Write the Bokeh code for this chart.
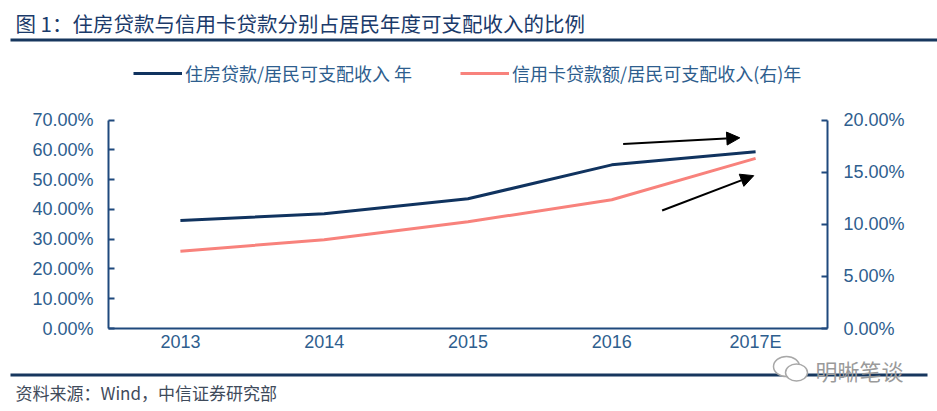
from bokeh.plotting import figure
from bokeh.models import (ColumnDataSource, FactorRange, Range1d, LinearAxis, FixedTicker,
                          NumeralTickFormatter, Arrow, NormalHead, Legend, LegendItem)
from bokeh.core.properties import value
from bokeh.layouts import column
from bokeh.embed import file_html
from bokeh.resources import INLINE

# ---- data ----
years = ["2013", "2014", "2015", "2016", "2017E"]
housing_ratio = [0.363, 0.386, 0.436, 0.550, 0.594]      # left axis
credit_ratio = [0.0742, 0.0853, 0.1025, 0.1236, 0.1634]   # right axis
left_ticks = [0.0, 0.1, 0.2, 0.3, 0.4, 0.5, 0.6, 0.7]
right_ticks = [0.0, 0.05, 0.10, 0.15, 0.20]

title_text = "图 1：住房贷款与信用卡贷款分别占居民年度可支配收入的比例"
name_housing = "住房贷款/居民可支配收入 年"
name_credit = "信用卡贷款额/居民可支配收入(右)年"
source_text = "资料来源：Wind，中信证券研究部"
watermark_text = "明晰笔谈"

NAVY = "#10335F"
PINK = "#F8827C"
AXIS = "#1F497D"
TXT = "#2E5E8E"
RULE = "#17375E"
LATIN = "Liberation Sans"
CJK = "Noto Sans CJK SC"

W = 937
HEAD_H, MAIN_H, FOOT_H = 42, 312, 56
BOTTOM_BORDER = 25
AXIS_H = 209                      # pixel height of the value axes
FRAME_H = MAIN_H - BOTTOM_BORDER  # frame reaches up to the top of the chart block


def deco_fig(h):
    f = figure(width=W, height=h, output_backend="svg", toolbar_location=None,
               x_range=Range1d(0, W), y_range=Range1d(h, 0),
               x_axis_location=None, y_axis_location=None,
               min_border=0, margin=0, frame_align=False)
    f.outline_line_color = None
    f.xgrid.visible = False
    f.ygrid.visible = False
    f.background_fill_color = "white"
    f.border_fill_color = "white"
    return f


# ---- header ----
header = deco_fig(HEAD_H)
header.text(x=[15], y=[22], text=[title_text], text_baseline="middle",
            text_font=value(CJK), text_font_size="20.5px", text_color="#1A3A6A")
header.quad(left=[10], right=[W], top=[38], bottom=[41], fill_color=RULE, line_color=None)

# ---- chart ----
src = ColumnDataSource(dict(year=years, housing=housing_ratio, credit=credit_ratio))
left_end = max(left_ticks) * FRAME_H / AXIS_H
right_end = max(right_ticks) * FRAME_H / AXIS_H

p = figure(width=W, height=MAIN_H, output_backend="svg", toolbar_location=None,
           x_range=FactorRange(factors=years), y_range=Range1d(0, left_end),
           min_border_left=108, min_border_right=110, min_border_top=0,
           min_border_bottom=BOTTOM_BORDER, margin=0, frame_align=False)
p.extra_y_ranges = {"right": Range1d(0, right_end)}
p.outline_line_color = None
p.xgrid.visible = False
p.ygrid.visible = False
p.background_fill_color = "white"
p.border_fill_color = "white"

r1 = p.line("year", "housing", source=src, line_color=NAVY, line_width=3)
r2 = p.line("year", "credit", source=src, line_color=PINK, line_width=3, y_range_name="right")

xa = p.xaxis[0]
xa.axis_line_color = AXIS
xa.axis_line_width = 2
xa.major_tick_in = 0
xa.major_tick_out = 0
xa.minor_tick_line_color = None
xa.major_label_standoff = 3
xa.major_label_text_font = LATIN
xa.major_label_text_font_size = "18px"
xa.major_label_text_color = TXT

ya = p.yaxis[0]
ya.ticker = FixedTicker(ticks=left_ticks)
ya.bounds = (min(left_ticks), max(left_ticks))
ya.formatter = NumeralTickFormatter(format="0.00%")
ya.axis_line_color = AXIS
ya.axis_line_width = 2
ya.major_tick_line_color = AXIS
ya.major_tick_line_width = 2
ya.major_tick_in = 6
ya.major_tick_out = 0
ya.minor_tick_line_color = None
ya.major_label_standoff = 15
ya.major_label_text_font = LATIN
ya.major_label_text_font_size = "18px"
ya.major_label_text_color = TXT

ry = LinearAxis(y_range_name="right", ticker=FixedTicker(ticks=right_ticks),
                bounds=(min(right_ticks), max(right_ticks)),
                formatter=NumeralTickFormatter(format="0.00%"))
ry.axis_line_color = AXIS
ry.axis_line_width = 2
ry.major_tick_line_color = AXIS
ry.major_tick_line_width = 2
ry.major_tick_in = 6
ry.major_tick_out = 0
ry.minor_tick_line_color = None
ry.major_label_standoff = 16
ry.major_label_text_font = LATIN
ry.major_label_text_font_size = "18px"
ry.major_label_text_color = TXT
p.add_layout(ry, "right")

legend = Legend(items=[LegendItem(label=name_housing, renderers=[r1]),
                       LegendItem(label=name_credit, renderers=[r2])],
                orientation="horizontal", location=(25, 242),
                border_line_color=None, background_fill_alpha=0,
                padding=0, margin=0, spacing=48, glyph_width=49, glyph_height=20,
                label_height=20, label_standoff=3,
                label_text_font=CJK, label_text_font_size="18px", label_text_color=TXT)
p.add_layout(legend, "center")

p.add_layout(Arrow(end=NormalHead(size=13, fill_color="black", line_color="black"),
                   x_start=3.579, y_start=0.6197, x_end=4.390, y_end=0.6408,
                   line_color="black", line_width=2))
p.add_layout(Arrow(end=NormalHead(size=13, fill_color="black", line_color="black"),
                   x_start=3.850, y_start=0.3967, x_end=4.487, y_end=0.5137,
                   line_color="black", line_width=2))

# ---- footer (local y = page y - 354) ----
footer = deco_fig(FOOT_H)
footer.quad(left=[10], right=[927], top=[19], bottom=[22], fill_color=RULE, line_color=None)
# watermark: small chat-bubble icon + text
footer.ellipse(x=[786], y=[12], width=[26], height=[20], fill_color="white",
               line_color="#A8A8A8", line_width=1.5)
footer.ellipse(x=[796], y=[18], width=[22], height=[17], fill_color="white",
               line_color="#A8A8A8", line_width=1.5)
footer.text(x=[815], y=[15], text=[watermark_text], text_baseline="middle",
            text_font=value(CJK), text_font_size="22px", text_color="#9A9A9A")
footer.text(x=[15], y=[38], text=[source_text], text_baseline="middle",
            text_font=value(CJK), text_font_size="17px", text_color="#3F4B5B")

layout = column(header, p, footer, spacing=0)
open("out.html", "w").write(file_html(layout, INLINE))
